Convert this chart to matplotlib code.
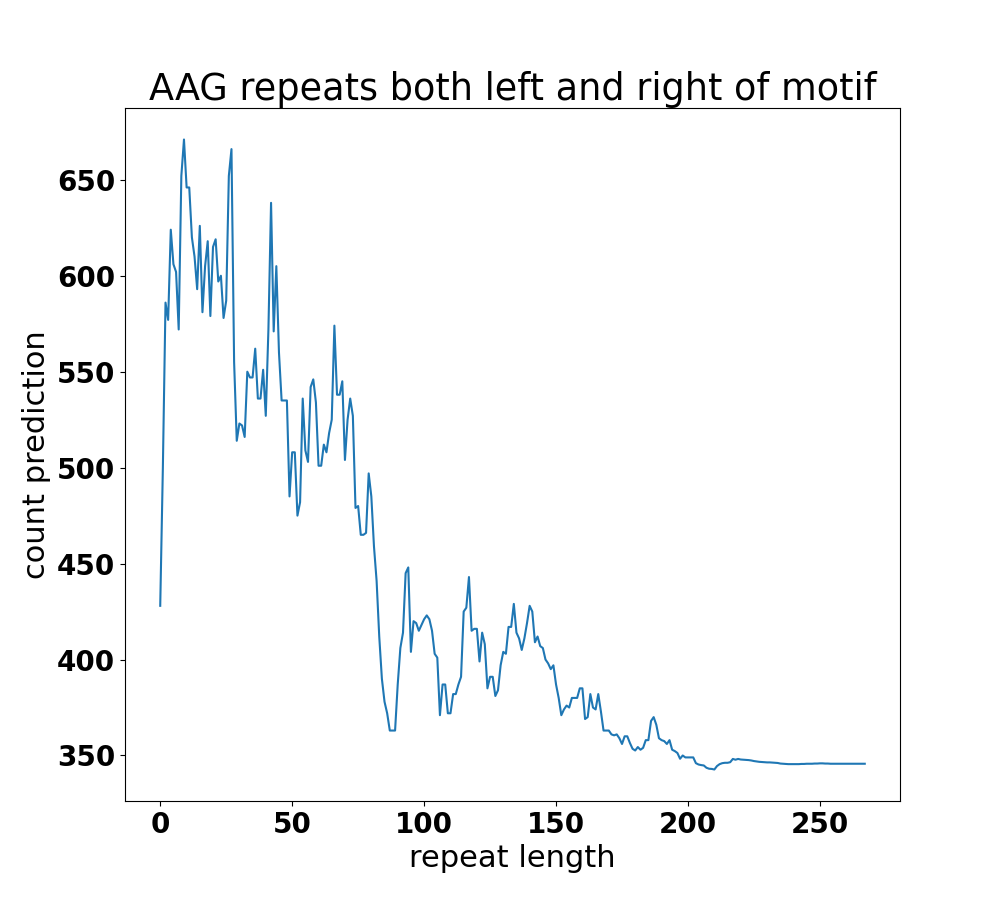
import matplotlib
matplotlib.use("Agg")
import matplotlib.pyplot as plt
import numpy as np

TITLE = "AAG repeats both left and right of motif"
XLABEL = "repeat length"
YLABEL = "count prediction"

# predicted counts, one per repeat length (0, 1, 2, ...)
counts_0_40 = [428, 500, 586, 577, 624, 606, 602, 572, 652, 671,
               646, 646, 620, 610, 593, 626, 581, 605, 618, 579,
               615, 619, 597, 600, 578, 587, 652, 666, 555, 514,
               523, 522, 516, 550, 547, 547, 562, 536, 536, 551,
               527]
counts_41_80 = [572, 638, 571, 605, 560, 535, 535, 535, 485, 508,
                508, 475, 482, 536, 509, 503, 542, 546, 534, 501,
                501, 512, 508, 518, 525, 574, 538, 538, 545, 504,
                525, 536, 527, 479, 480, 465, 465, 466, 497, 485]
counts_81_124 = [459, 441, 412, 390, 378, 372, 363, 363, 363, 387,
                 406, 414, 445, 448, 404, 420, 419, 415, 418, 421,
                 423, 421, 415, 403, 401, 371, 387, 387, 372, 372,
                 382, 382, 387, 391, 425, 427, 443, 415, 416, 416,
                 399, 414, 408, 385]
counts_125_165 = [391, 391, 381, 384, 397, 404, 403, 417, 417, 429,
                  414, 411, 405, 411, 419, 428, 425, 409, 412, 407,
                  406, 400, 398, 395, 397, 387, 380, 371, 374, 376,
                  375, 380, 380, 380, 385, 385, 369, 370, 382, 375,
                  374]
counts_166_207 = [382, 373, 363, 363, 363, 361, 360.5, 361, 359, 356,
                  360, 360, 356.5, 353.5, 352.6, 354.4, 353, 354, 358, 358,
                  368, 370, 366, 359, 358, 357.5, 356, 358, 353, 352.3,
                  351.3, 348.3, 350, 349, 349, 349, 349, 346, 345.3, 345,
                  344.8, 343.6]
counts_208_267 = [343.1, 343, 342.7, 344.5, 345.5, 346, 346.2, 346.2, 346.5, 348.2,
                  347.8, 348.2, 347.9, 347.8, 347.7, 347.6, 347.4, 347.1, 346.9, 346.7,
                  346.6, 346.5, 346.4, 346.4, 346.3, 346.2, 346.1, 345.8, 345.7, 345.6,
                  345.5, 345.5, 345.5, 345.5, 345.5, 345.6, 345.6, 345.7, 345.7, 345.7,
                  345.8, 345.8, 345.9, 345.9, 345.8, 345.8, 345.7, 345.7, 345.7, 345.7,
                  345.7, 345.7, 345.7, 345.7, 345.7, 345.7, 345.7, 345.7, 345.7, 345.7]

counts = counts_0_40 + counts_41_80 + counts_81_124 + counts_125_165 + counts_166_207 + counts_208_267
repeat_len = np.arange(len(counts))

plt.rcParams['font.size'] = 22

fig, ax = plt.subplots(figsize=(10, 9), dpi=100)
ax.plot(repeat_len, counts, color='#1f77b4', linewidth=1.5)
ax.set_title(TITLE, fontsize=26.4)
ax.set_xlabel(XLABEL, fontsize=22)
ax.set_ylabel(YLABEL, fontsize=22)
ax.set_yticks([350, 400, 450, 500, 550, 600, 650])
for lbl in ax.get_xticklabels() + ax.get_yticklabels():
    lbl.set_fontsize(20)
    lbl.set_fontweight('bold')

fig.savefig("out.png")
